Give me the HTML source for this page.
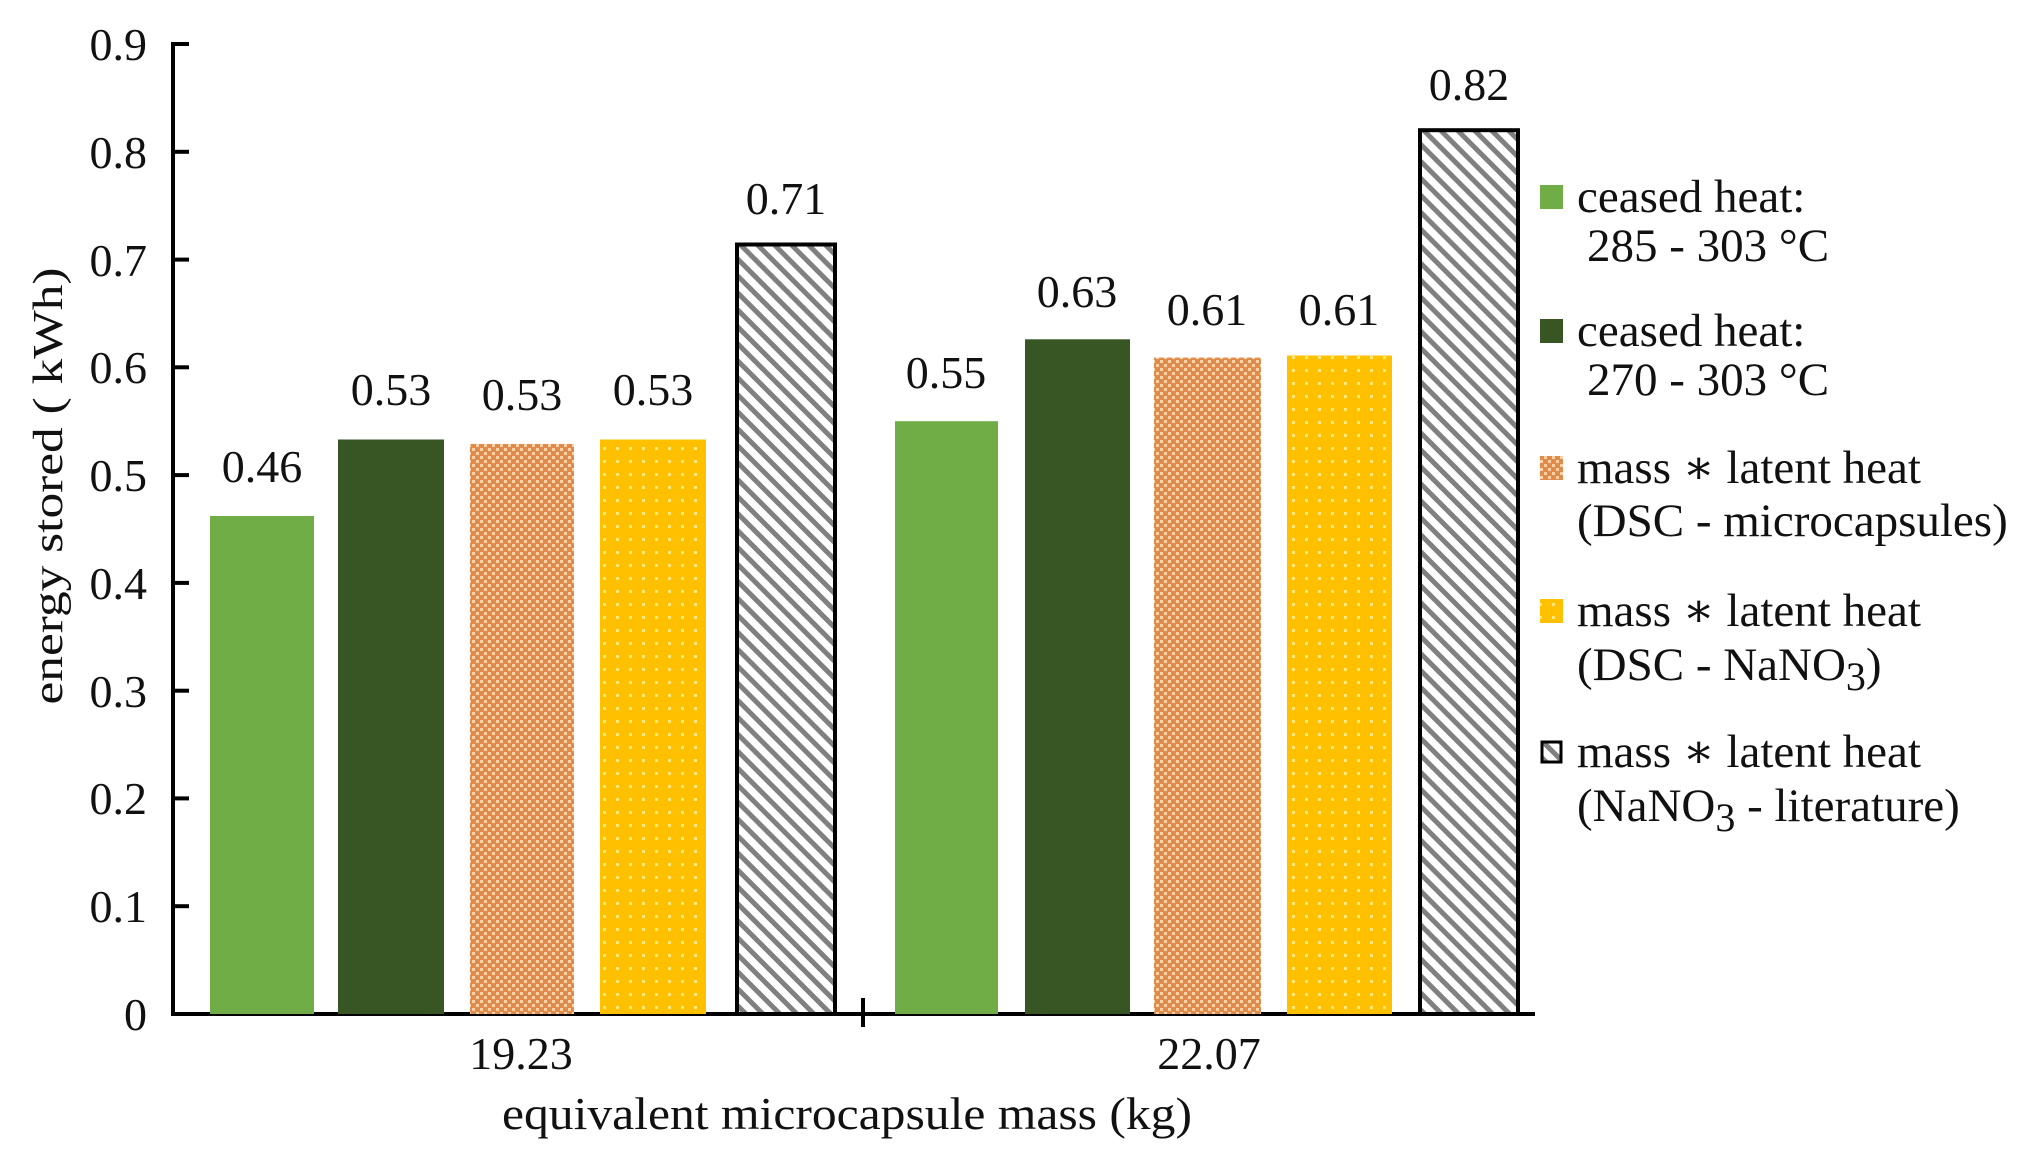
<!DOCTYPE html>
<html><head><meta charset="utf-8"><style>
html,body{margin:0;padding:0;background:#fff;}
svg{display:block;}
text{font-family:"Liberation Serif","Times New Roman","DejaVu Serif",serif;fill:#111;}
</style></head><body>
<svg width="2043" height="1161" viewBox="0 0 2043 1161" xmlns="http://www.w3.org/2000/svg" font-family="'Liberation Serif', 'Times New Roman', serif">
<defs>
<pattern id="chk" width="8" height="8" patternUnits="userSpaceOnUse">
<rect width="8" height="8" fill="#E08A4B"/>
<rect x="0" y="0" width="3" height="3" fill="#FAD3A8"/>
<rect x="4" y="4" width="3" height="3" fill="#FAD3A8"/>
</pattern>
<pattern id="dot" width="13" height="13" patternUnits="userSpaceOnUse">
<rect width="13" height="13" fill="#FFC000"/>
<rect x="5" y="5" width="3" height="3" fill="#FFE97A"/>
</pattern>
<pattern id="hat" width="12" height="12" patternUnits="userSpaceOnUse" patternTransform="rotate(-45)">
<rect width="12" height="12" fill="#fff"/>
<rect x="0" y="0" width="5" height="12" fill="#808080"/>
</pattern>
</defs>

<line x1="173" y1="42" x2="173" y2="1016" stroke="#000" stroke-width="4"/>
<line x1="171" y1="1014" x2="1535" y2="1014" stroke="#000" stroke-width="4"/>
<line x1="863" y1="998" x2="863" y2="1027" stroke="#000" stroke-width="4"/>
<g stroke="#000" stroke-width="4">
<line x1="173" y1="44" x2="189" y2="44"/>
<line x1="173" y1="151.8" x2="189" y2="151.8"/>
<line x1="173" y1="259.6" x2="189" y2="259.6"/>
<line x1="173" y1="367.3" x2="189" y2="367.3"/>
<line x1="173" y1="475.1" x2="189" y2="475.1"/>
<line x1="173" y1="582.9" x2="189" y2="582.9"/>
<line x1="173" y1="690.7" x2="189" y2="690.7"/>
<line x1="173" y1="798.4" x2="189" y2="798.4"/>
<line x1="173" y1="906.2" x2="189" y2="906.2"/>
</g>
<g font-size="46" text-anchor="end">
<text x="147" y="60">0.9</text>
<text x="147" y="168">0.8</text>
<text x="147" y="276">0.7</text>
<text x="147" y="383">0.6</text>
<text x="147" y="491">0.5</text>
<text x="147" y="599">0.4</text>
<text x="147" y="707">0.3</text>
<text x="147" y="814">0.2</text>
<text x="147" y="922">0.1</text>
<text x="147" y="1030">0</text>
</g>
<text transform="translate(62,486) rotate(-90)" font-size="42" text-anchor="middle" textLength="437" lengthAdjust="spacingAndGlyphs">energy  stored ( kWh)</text>

<rect x="210" y="516" width="104" height="498" fill="#70AD47"/>
<rect x="338" y="439.5" width="106" height="574.5" fill="#375623"/>
<rect x="470" y="443.9" width="104" height="570.1" fill="url(#chk)"/>
<rect x="600" y="439.5" width="106" height="574.5" fill="url(#dot)"/>
<rect x="737" y="244.5" width="98" height="769.5" fill="url(#hat)" stroke="#000" stroke-width="4"/>
<rect x="895" y="421.2" width="103" height="592.8" fill="#70AD47"/>
<rect x="1025" y="339.3" width="105" height="674.7" fill="#375623"/>
<rect x="1154" y="357.6" width="107" height="656.4" fill="url(#chk)"/>
<rect x="1287" y="355.5" width="105" height="658.5" fill="url(#dot)"/>
<rect x="1420" y="130.2" width="98" height="883.8" fill="url(#hat)" stroke="#000" stroke-width="4"/>

<g font-size="46" text-anchor="middle">
<text x="262" y="482">0.46</text>
<text x="391" y="405">0.53</text>
<text x="522" y="410">0.53</text>
<text x="653" y="405">0.53</text>
<text x="786" y="214">0.71</text>
<text x="946" y="388">0.55</text>
<text x="1077" y="307">0.63</text>
<text x="1207" y="325">0.61</text>
<text x="1339" y="325">0.61</text>
<text x="1469" y="100">0.82</text>
</g>

<g font-size="46" text-anchor="middle">
<text x="521" y="1069">19.23</text>
<text x="1209" y="1069">22.07</text>
<text x="847" y="1129" textLength="690" lengthAdjust="spacingAndGlyphs">equivalent microcapsule mass (kg)</text>
</g>

<rect x="1540" y="185" width="23" height="24" fill="#70AD47"/>
<rect x="1540" y="319" width="23" height="24" fill="#375623"/>
<rect x="1540" y="456" width="23" height="24" fill="url(#chk)"/>
<rect x="1540" y="599" width="23" height="24" fill="url(#dot)"/>
<rect x="1542" y="742" width="19" height="20" fill="url(#hat)" stroke="#000" stroke-width="3"/>
<g font-size="47">
<text x="1577" y="212">ceased heat:</text>
<text x="1587" y="261">285 - 303 °C</text>
<text x="1577" y="346">ceased heat:</text>
<text x="1587" y="395">270 - 303 °C</text>
<text x="1577" y="483">mass ∗ latent heat</text>
<text x="1577" y="536">(DSC - microcapsules)</text>
<text x="1577" y="626">mass ∗ latent heat</text>
<text x="1577" y="680">(DSC - NaNO<tspan dy="10" font-size="40">3</tspan><tspan dy="-10">)</tspan></text>
<text x="1577" y="767">mass ∗ latent heat</text>
<text x="1577" y="821">(NaNO<tspan dy="10" font-size="40">3</tspan><tspan dy="-10"> - literature)</tspan></text>
</g>
</svg>
</body></html>
